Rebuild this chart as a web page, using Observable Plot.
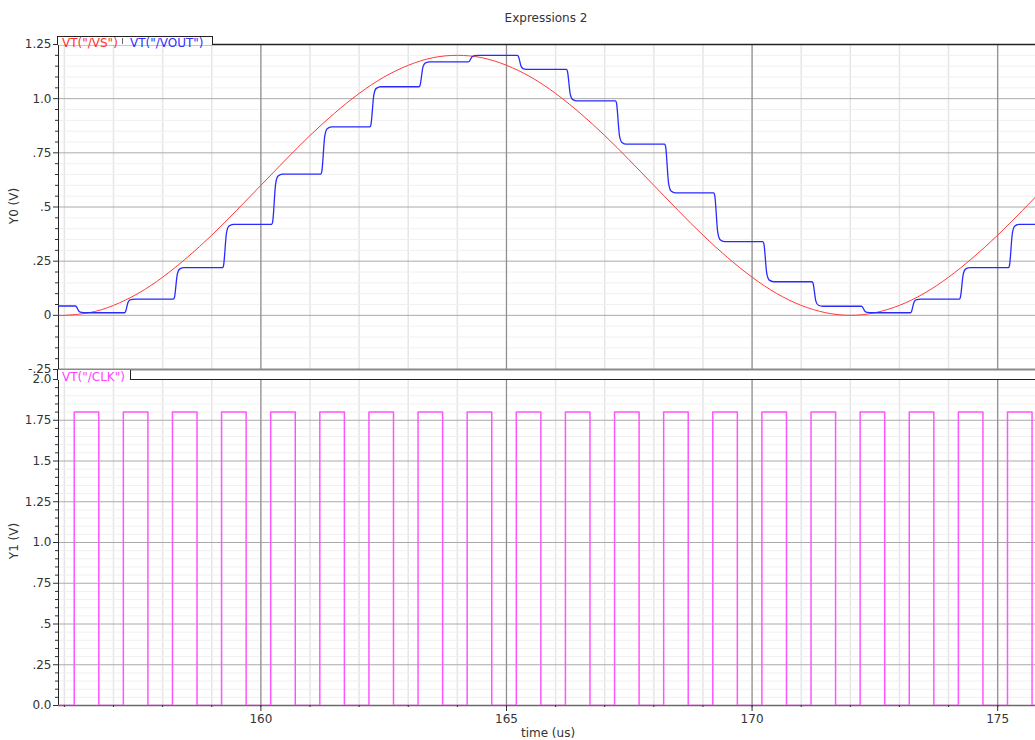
<!DOCTYPE html>
<html>
<head>
<meta charset="utf-8">
<script src="https://cdn.jsdelivr.net/npm/d3@7"></script>
<script src="https://cdn.jsdelivr.net/npm/@observablehq/plot@0.6"></script>
<style>
  body { margin: 0; background: #fff; }
  #wrap { position: relative; width: 1035px; height: 740px; overflow: hidden; background: #fff; font-family: "DejaVu Sans", sans-serif; color: #333; }
  #wrap svg { position: absolute; left: 0; overflow: visible; }
  .lbl { position: absolute; font-size: 12px; line-height: 12px; white-space: nowrap; }
  .tab { position: absolute; background: #fff; box-sizing: border-box; }
</style>
</head>
<body>
<div id="wrap"></div>
<script>
// ---------- data ----------
const xDomain = [155.88, 175.77];

// VT("/VS") – sine input, every 0.5 us
const vsTimes = [155.88, 156, 156.5, 157, 157.5, 158, 158.5, 159, 159.5, 160, 160.5, 161, 161.5, 162, 162.5, 163, 163.5, 164, 164.5, 165, 165.5, 166, 166.5, 167, 167.5, 168, 168.5, 169, 169.5, 170, 170.5, 171, 171.5, 172, 172.5, 173, 173.5, 174, 174.5, 175, 175.5, 176];
const vsValues = [0.001, 0.000, 0.012, 0.046, 0.101, 0.176, 0.267, 0.370, 0.483, 0.600, 0.717, 0.830, 0.933, 1.024, 1.099, 1.154, 1.189, 1.200, 1.189, 1.154, 1.099, 1.024, 0.933, 0.830, 0.717, 0.600, 0.483, 0.370, 0.267, 0.176, 0.101, 0.046, 0.012, 0.000, 0.012, 0.046, 0.101, 0.176, 0.267, 0.370, 0.483, 0.600];

// VT("/VOUT") – sample & hold staircase: held level and the times the level changes
const voutEdges = [156.22, 157.22, 158.22, 159.22, 160.22, 161.22, 162.22, 163.22, 164.22, 165.22, 166.22, 167.22, 168.22, 169.22, 170.22, 171.22, 172.22, 173.22, 174.22, 175.22];
const voutLevels = [0.043, 0.012, 0.075, 0.220, 0.420, 0.652, 0.870, 1.055, 1.170, 1.200, 1.135, 0.990, 0.790, 0.565, 0.340, 0.155, 0.042, 0.012, 0.075, 0.220, 0.420];

// VT("/CLK") – clock rising and falling edges
const clkRise = [156.2, 157.2, 158.2, 159.2, 160.2, 161.2, 162.2, 163.2, 164.2, 165.2, 166.2, 167.2, 168.2, 169.2, 170.2, 171.2, 172.2, 173.2, 174.2, 175.2];
const clkFall = [156.7, 157.7, 158.7, 159.7, 160.7, 161.7, 162.7, 163.7, 164.7, 165.7, 166.7, 167.7, 168.7, 169.7, 170.7, 171.7, 172.7, 173.7, 174.7, 175.7];
const clkHigh = 1.8, clkLow = 0;

// ticks
const xMajor = [160, 165, 170, 175];
const xMinor = [156, 157, 158, 159, 160, 161, 162, 163, 164, 165, 166, 167, 168, 169, 170, 171, 172, 173, 174, 175];
const yTopTicks = [-0.25, 0, 0.25, 0.5, 0.75, 1.0, 1.25];
const yTopLabels = ["-.25", "0", ".25", ".5", ".75", "1.0", "1.25"];
const yBotTicks = [0, 0.25, 0.5, 0.75, 1.0, 1.25, 1.5, 1.75, 2.0];
const yBotLabels = ["0.0", ".25", ".5", ".75", "1.0", "1.25", "1.5", "1.75", "2.0"];

// ---------- derived tables ----------
const vsData = vsTimes.map((t, i) => ({t, v: vsValues[i]}));
const voutData = [{t: xDomain[0], v: voutLevels[0]}];
voutEdges.forEach((t, i) => {
  const a = voutLevels[i], b = voutLevels[i + 1], d = b - a;
  voutData.push({t, v: a});
  voutData.push({t: t + 0.02, v: a + 0.05 * d});
  voutData.push({t: t + 0.08, v: a + 0.8 * d});
  voutData.push({t: t + 0.13, v: a + 0.96 * d});
  voutData.push({t: t + 0.22, v: b});
});
voutData.push({t: xDomain[1], v: voutLevels[voutLevels.length - 1]});

const clkData = [{t: xDomain[0], v: clkLow}];
clkRise.forEach((r, i) => {
  clkData.push({t: r, v: clkLow}, {t: r, v: clkHigh}, {t: clkFall[i], v: clkHigh}, {t: clkFall[i], v: clkLow});
});
clkData.push({t: xDomain[1], v: clkLow});

const r2 = v => Math.round(v * 100) / 100;
const yMinorTop = d3.range(-0.25, 1.2501, 0.05).map(r2).filter(v => !yTopTicks.includes(v));
const yMinorBot = d3.range(0, 2.0001, 0.05).map(r2).filter(v => !yBotTicks.includes(v));
const topLabelMap = new Map(yTopTicks.map((v, i) => [v, yTopLabels[i]]));
const botLabelMap = new Map(yBotTicks.map((v, i) => [v, yBotLabels[i]]));

const style = {fontFamily: "DejaVu Sans, sans-serif", fontSize: "12px", color: "#333", background: "transparent", overflow: "visible"};

// ---------- top panel ----------
const topPlot = Plot.plot({
  width: 1035, height: 372,
  marginLeft: 58, marginRight: 0, marginTop: 44, marginBottom: 3,
  style,
  x: {domain: xDomain, axis: null},
  y: {domain: [-0.25, 1.25], label: null},
  marks: [
    Plot.ruleX(xMinor, {stroke: "#e6e6e6", strokeWidth: 1.5}),
    Plot.ruleY(yMinorTop, {stroke: "#f0f0f0", strokeWidth: 1}),
    Plot.ruleY(yTopTicks, {stroke: "#aaaaaa", strokeWidth: 1}),
    Plot.ruleX(xMajor, {stroke: "#8e8e8e", strokeWidth: 1.2}),
    Plot.ruleY([-0.25], {stroke: "#8a8a8a", strokeWidth: 2}),
    Plot.ruleY([1.25], {stroke: "#222", strokeWidth: 1.5}),
    Plot.ruleX([xDomain[0]], {stroke: "#222", strokeWidth: 1}),
    Plot.line(vsData, {x: "t", y: "v", stroke: "#ff3a3a", strokeWidth: 1, curve: "natural", clip: true}),
    Plot.line(voutData, {x: "t", y: "v", stroke: "#2a2aff", strokeWidth: 1.3, curve: "monotone-x", clip: true}),
    Plot.axisY(yMinorTop, {tickSize: 3, tickFormat: () => "", label: null}),
    Plot.axisY(yTopTicks, {tickSize: 5, tickPadding: 2, tickFormat: d => topLabelMap.get(r2(d)), label: null})
  ]
});
topPlot.style.top = "0px";

// ---------- bottom panel ----------
const botPlot = Plot.plot({
  width: 1035, height: 380,
  marginLeft: 58, marginRight: 0, marginTop: 19, marginBottom: 35,
  style,
  x: {domain: xDomain, label: null},
  y: {domain: [0, 2.0], label: null},
  marks: [
    Plot.ruleX(xMinor, {stroke: "#e6e6e6", strokeWidth: 1.5}),
    Plot.ruleY(yMinorBot, {stroke: "#f0f0f0", strokeWidth: 1}),
    Plot.ruleY(yBotTicks, {stroke: "#aaaaaa", strokeWidth: 1}),
    Plot.ruleX(xMajor, {stroke: "#8e8e8e", strokeWidth: 1.2}),
    Plot.ruleY([0], {stroke: "#6a6a6a", strokeWidth: 1.5}),
    Plot.ruleY([2.0], {stroke: "#222", strokeWidth: 1}),
    Plot.ruleX([xDomain[0]], {stroke: "#222", strokeWidth: 1}),
    Plot.line(clkData, {x: "t", y: "v", stroke: "#ff55ff", strokeWidth: 1.5, clip: true}),
    Plot.axisY(yMinorBot, {tickSize: 3, tickFormat: () => "", label: null}),
    Plot.axisY(yBotTicks, {tickSize: 5, tickPadding: 2, tickFormat: d => botLabelMap.get(r2(d)), label: null}),
    Plot.axisX(xMinor, {tickSize: 2, tickFormat: () => "", label: null}),
    Plot.axisX(xMajor, {tickSize: 6, tickPadding: 3, tickFormat: d => String(d), label: null})
  ]
});
botPlot.style.top = "360px";

// ---------- assemble ----------
const wrap = document.getElementById("wrap");
wrap.appendChild(botPlot);
wrap.appendChild(topPlot);

function addDiv(cls, css, text) {
  const el = document.createElement("div");
  el.className = cls;
  el.style.cssText = css;
  if (text != null) el.textContent = text;
  wrap.appendChild(el);
  return el;
}

// legend tabs
addDiv("tab", "left:57px;top:35.5px;width:156px;height:9px;border-top:1.5px solid #222;border-left:1px solid #222;border-right:1.5px solid #222;");
addDiv("lbl", "left:62px;top:36.5px;color:#ff3030;", 'VT("/VS")');
addDiv("tab", "left:121.5px;top:38px;width:1.5px;height:6px;background:#666;");
addDiv("lbl", "left:130px;top:36.5px;color:#3030ff;", 'VT("/VOUT")');

addDiv("tab", "left:57px;top:370px;width:74px;height:9.5px;border-left:1px solid #222;border-right:1.5px solid #222;");
addDiv("lbl", "left:62px;top:371px;color:#ff40ff;", 'VT("/CLK")');

// titles and axis labels
addDiv("lbl", "left:546px;top:12px;transform:translateX(-50%);color:#333;", "Expressions 2");
addDiv("lbl", "left:548px;top:727px;transform:translateX(-50%);color:#333;", "time (us)");
addDiv("lbl", "left:14px;top:206px;transform:translate(-50%,-50%) rotate(-90deg);color:#333;", "Y0 (V)");
addDiv("lbl", "left:14px;top:541px;transform:translate(-50%,-50%) rotate(-90deg);color:#333;", "Y1 (V)");
</script>
</body>
</html>
